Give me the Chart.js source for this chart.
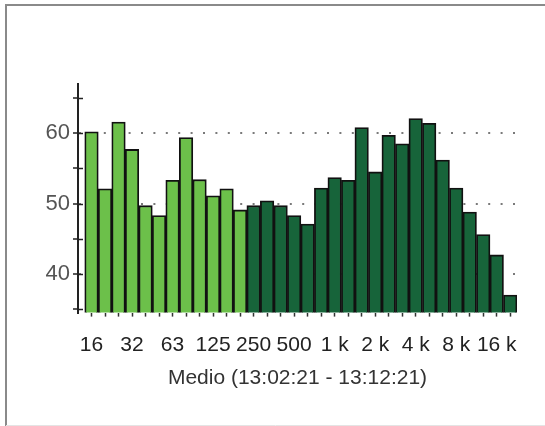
<!DOCTYPE html>
<html>
<head>
<meta charset="utf-8">
<script src="https://cdn.jsdelivr.net/npm/chart.js@4/dist/chart.umd.min.js"></script>
<style>
  html, body { margin: 0; padding: 0; background: #fff; }
  #wrap { width: 545px; height: 426px; position: relative; }
</style>
</head>
<body>
<div id="wrap"><canvas id="c" width="545" height="426"></canvas></div>
<script>
// 1/3-octave band centre frequencies (Hz)
const categories = ['16','20','25','31.5','40','50','63','80','100','125','160','200',
  '250','315','400','500','630','800','1 k','1.25 k','1.6 k','2 k','2.5 k','3.15 k',
  '4 k','5 k','6.3 k','8 k','10 k','12.5 k','16 k','20 k'];
// Shown octave tick labels (every third band)
const tickLabels = ['16','32','63','125','250','500','1 k','2 k','4 k','8 k','16 k'];
// Band levels (dB)
const levels = [60.2,52.1,61.6,57.7,49.7,48.3,53.3,59.4,53.4,51.1,52.1,49.1,
  49.7,50.4,49.7,48.3,47.1,52.2,53.7,53.3,60.8,54.5,59.7,58.5,
  62.1,61.4,56.2,52.2,48.8,45.6,42.7,37.0];
const lowBandCount = 12;           // bands 16–200 Hz drawn in light green
const yTicks = [35,40,45,50,55,60,65];
const yLabelled = [40,50,60];
const title = 'Medio (13:02:21 - 13:12:21)';

const LIGHT = '#6cc04a', DARK = '#17643a';
const FONT = { family: 'Liberation Sans', size: 21 };

const framePlugin = {
  id: 'frame',
  afterDraw(chart) {
    const ctx = chart.ctx;
    ctx.save();
    ctx.strokeStyle = '#8a8a8a';
    ctx.lineWidth = 2;
    ctx.beginPath();
    ctx.moveTo(6, 426); ctx.lineTo(6, 5); ctx.lineTo(545, 5);
    ctx.stroke();
    ctx.strokeStyle = '#e4e4e4';
    ctx.lineWidth = 1;
    ctx.beginPath(); ctx.moveTo(6, 425.5); ctx.lineTo(545, 425.5); ctx.stroke();
    // inner half of the crossing y-axis ticks
    const y = chart.scales.y, x0 = chart.chartArea.left;
    ctx.strokeStyle = '#222';
    ctx.lineWidth = 1.5;
    yTicks.forEach(v => {
      const py = Math.round(y.getPixelForValue(v)) + 0.5;
      ctx.beginPath(); ctx.moveTo(x0, py); ctx.lineTo(x0 + 5, py); ctx.stroke();
    });
    ctx.restore();
  }
};

new Chart(document.getElementById('c'), {
  type: 'bar',
  data: {
    datasets: [{
      data: levels.map((v, i) => ({ x: i, y: v })),
      backgroundColor: ctx => ctx.dataIndex < lowBandCount ? LIGHT : DARK,
      borderColor: '#111',
      borderWidth: 1.8,
      borderSkipped: false,
      barPercentage: 1,
      categoryPercentage: 1
    }]
  },
  options: {
    responsive: false,
    animation: false,
    devicePixelRatio: 1,
    layout: { padding: { left: 0, right: 28, top: 84, bottom: 35 } },
    plugins: { legend: { display: false }, tooltip: { enabled: false } },
    scales: {
      x: {
        type: 'linear',
        min: -1,
        max: 31.5,
        offset: false,
        afterBuildTicks: s => { s.ticks = categories.map((c, i) => ({ value: i })); },
        ticks: {
          autoSkip: false,
          maxRotation: 0,
          padding: 16,
          color: '#222',
          font: FONT,
          callback: v => (v % 3 === 0 ? tickLabels[v / 3] : '')
        },
        grid: { offset: false, drawOnChartArea: false, tickLength: 4, tickColor: '#333', tickWidth: 1.5 },
        border: { display: false },
        title: {
          display: true,
          text: title,
          color: '#333',
          font: FONT,
          padding: { top: -8, bottom: 0 }
        }
      },
      y: {
        min: 34.5,
        max: 67,
        afterBuildTicks: s => { s.ticks = yTicks.map(v => ({ value: v })); },
        afterFit: s => { s.width = 78; },
        ticks: {
          padding: 3,
          color: '#555',
          font: { family: 'Liberation Sans', size: 22 },
          callback: v => (yLabelled.includes(v) ? String(v) : '')
        },
        grid: {
          color: c => (c.tick && yLabelled.includes(c.tick.value) ? '#7a7a7a' : 'rgba(0,0,0,0)'),
          lineWidth: 2,
          tickBorderDash: [],
          tickColor: '#222',
          tickLength: 5,
          tickWidth: 1.5
        },
        border: { display: true, color: '#222', width: 2, dash: [2, 10.4] }
      }
    }
  },
  plugins: [framePlugin]
});
</script>
</body>
</html>
